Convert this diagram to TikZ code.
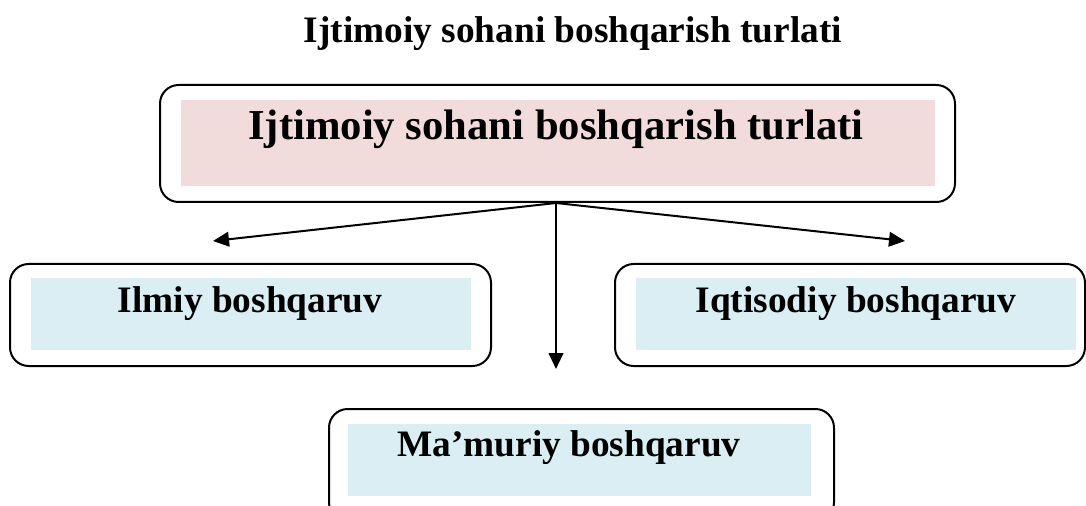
\documentclass[tikz,border=0pt]{standalone}
\usepackage{fontspec}
\setmainfont{Liberation Serif}
\usetikzlibrary{arrows.meta}
\definecolor{pinkfill}{HTML}{F2DBDB}
\definecolor{bluefill}{HTML}{DAEEF3}
\tikzset{
  outerbox/.style={draw=black, line width=1.5pt, rounded corners=14pt, inner sep=0pt},
  fillbox/.style={inner sep=0pt},
  lbl/.style={inner sep=0pt, font=\bfseries\fontsize{28}{32}\selectfont},
  conn/.style={line width=1.5pt, -{Triangle[length=12pt,width=11pt]}}
}
\begin{document}
\begin{tikzpicture}[x=0.75pt,y=-0.75pt]
\useasboundingbox (0,0) rectangle (1086,506);
\clip (0,0) rectangle (1086,506);
% title
\node[lbl] (title) at (573,34) {Ijtimoiy sohani boshqarish turlati};
% main box
\node[outerbox, minimum width=795*0.75pt, minimum height=117*0.75pt] (main) at (557.5,143.5) {};
\node[fillbox, fill=pinkfill, minimum width=754*0.75pt, minimum height=86*0.75pt] (mainfill) at (558,143) {};
\node[lbl, font=\bfseries\fontsize{32}{36}\selectfont] (maintext) at (556,129.5) {Ijtimoiy sohani boshqarish turlati};
% left box
\node[outerbox, minimum width=481*0.75pt, minimum height=102*0.75pt] (left) at (250.5,315) {};
\node[fillbox, fill=bluefill, minimum width=440*0.75pt, minimum height=72*0.75pt] (leftfill) at (251,314) {};
\node[lbl] (lefttext) at (250,304) {Ilmiy boshqaruv};
% right box
\node[outerbox, minimum width=470*0.75pt, minimum height=102*0.75pt] (right) at (850,315) {};
\node[fillbox, fill=bluefill, minimum width=440*0.75pt, minimum height=72*0.75pt] (rightfill) at (856,314) {};
\node[lbl] (righttext) at (856,304) {Iqtisodiy boshqaruv};
% bottom box
\node[outerbox, minimum width=505*0.75pt, minimum height=112*0.75pt] (bottom) at (581.5,465) {};
\node[fillbox, fill=bluefill, minimum width=463*0.75pt, minimum height=72*0.75pt] (bottomfill) at (579.5,460) {};
\node[lbl] (bottomtext) at (569,448) {Ma’muriy boshqaruv};
% connectors
\coordinate (split) at (556,203);
\coordinate (lefttip) at (213,241);
\coordinate (righttip) at (905,241);
\coordinate (downtip) at (556,369);
\draw[conn] (split) -- (lefttip);
\draw[conn] (split) -- (righttip);
\draw[conn] (split) -- (downtip);
\end{tikzpicture}
\end{document}
